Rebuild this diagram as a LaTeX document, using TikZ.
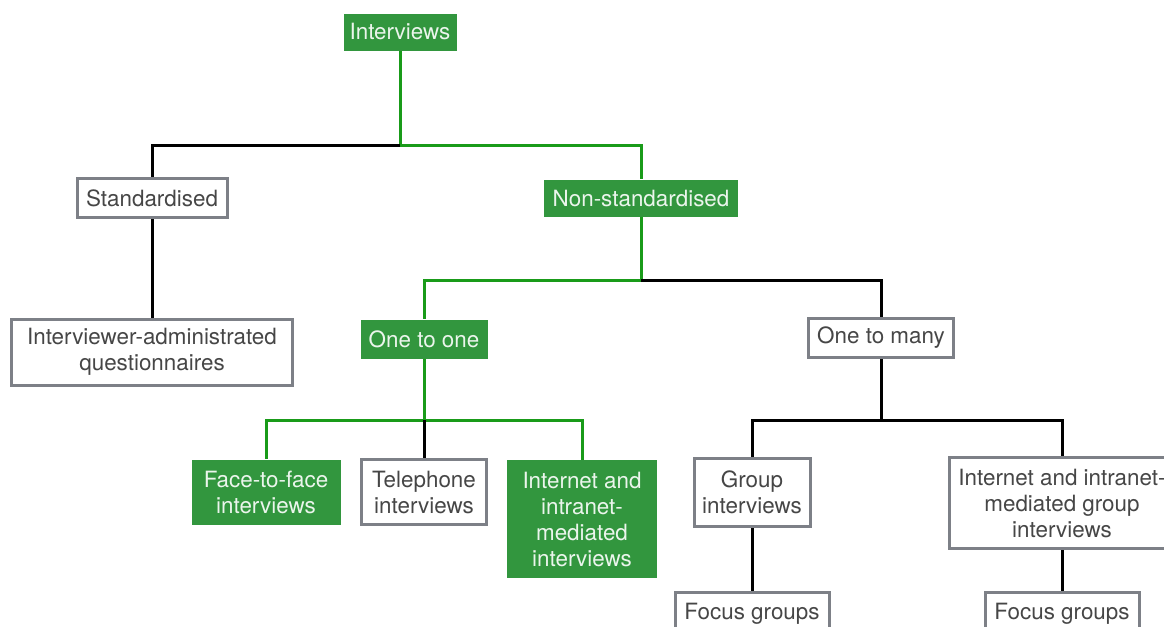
\documentclass[tikz,border=0pt]{standalone}
\usepackage{fontspec}
\setmainfont{TeX Gyre Heros}
\usetikzlibrary{backgrounds}
\definecolor{boxgreen}{RGB}{50,150,62}
\definecolor{linegreen}{RGB}{25,155,25}
\definecolor{boxgray}{RGB}{125,128,135}
\definecolor{txtgray}{RGB}{70,70,70}
\tikzset{
	greenbox/.style={fill=boxgreen,draw=none,text=white!90!boxgreen,align=center,
		inner sep=0pt,font=\fontsize{11.2}{13}\selectfont},
	graybox/.style={fill=white,draw=boxgray,line width=1.5pt,text=txtgray,align=center,
		inner sep=0pt,font=\fontsize{11.2}{13}\selectfont},
	greenline/.style={draw=linegreen,line width=1.5pt},
	blackline/.style={draw=black,line width=1.5pt}
}

\begin{document}
\begin{tikzpicture}[x=0.5pt,y=-0.5pt]
		
		% fix the margins of the picture
		\useasboundingbox (0,0) rectangle (1164,627);
		
		% the green boxes of the chosen path
		\node (interviews) [greenbox,minimum width=56.5pt,minimum height=18.5pt] at (400,32) {Interviews};
		\node (nonstd) [greenbox,minimum width=97pt,minimum height=18.5pt] at (641,198) {Non-standardised};
		\node (onetoone) [greenbox,minimum width=63.5pt,minimum height=19.5pt] at (424,339) {One to one};
		\node (face) [greenbox,minimum width=74.5pt,minimum height=32.5pt] at (266,492) {Face-to-face\\interviews};
		\node (internet) [greenbox,minimum width=75pt,minimum height=59pt] at (582,519) {Internet and\\intranet-\\mediated\\interviews};
		
		% the white boxes
		\node (std) [graybox,minimum width=75pt,minimum height=19.5pt] at (152,198) {Standardised};
		\node (quest) [graybox,minimum width=140.5pt,minimum height=33pt] at (152,352) {Interviewer-administrated\\questionnaires};
		\node (onetomany) [graybox,minimum width=72.5pt,minimum height=19.5pt] at (881,338) {One to many};
		\node (phone) [graybox,minimum width=62.5pt,minimum height=32.5pt] at (424,492) {Telephone\\interviews};
		\node (group) [graybox,minimum width=58pt,minimum height=34pt] at (752,492) {Group\\interviews};
		\node (netgroup) [graybox,minimum width=113pt,minimum height=45.5pt] at (1062,503) {Internet and intranet-\\mediated group\\interviews};
		\node (focus1) [graybox,minimum width=77pt,minimum height=22pt] at (752,614) {Focus groups};
		\node (focus2) [graybox,minimum width=77pt,minimum height=22pt] at (1062,614) {Focus groups};
		
		% the junction points of the connectors
		\coordinate (j1) at (400,145);
		\coordinate (j2) at (641,280);
		\coordinate (j3) at (424,420);
		\coordinate (j4) at (881,420);
		
		% we draw the connectors behind the boxes
		\begin{scope}[on background layer]
			\draw[greenline] (interviews) -- (j1) -| (nonstd);
			\draw[blackline] (j1) -| (std);
			\draw[blackline] (std) -- (quest);
			\draw[greenline] (nonstd) -- (j2) -| (onetoone);
			\draw[blackline] (j2) -| (onetomany);
			\draw[greenline] (onetoone) -- (j3) -| (face);
			\draw[greenline] (j3) -| (internet);
			\draw[blackline] (j3) -- (phone);
			\draw[blackline] (onetomany) -- (j4) -| (group);
			\draw[blackline] (j4) -| (netgroup);
			\draw[blackline] (group) -- (focus1);
			\draw[blackline] (netgroup) -- (focus2);
		\end{scope}
		
	\end{tikzpicture}
\end{document}
